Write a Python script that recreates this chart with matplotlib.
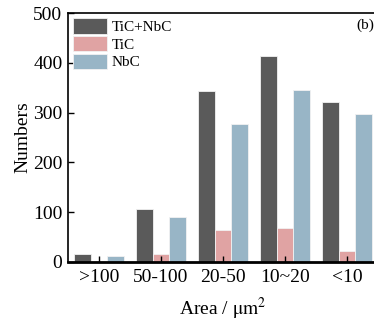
import numpy as np
import matplotlib
matplotlib.use("Agg")
import matplotlib.pyplot as plt

categories = [">100", "50-100", "20-50", "10~20", "<10"]
tic_nbc = [16, 106, 343, 413, 321]
tic = [3, 16, 64, 68, 22]
nbc = [12, 90, 277, 345, 297]

series_names = ["TiC+NbC", "TiC", "NbC"]
colors = ["#5a5a5a", "#e0a3a3", "#98b5c6"]

plt.rcParams["font.family"] = "Liberation Serif"
plt.rcParams["mathtext.fontset"] = "stix"

fig = plt.figure(figsize=(3.74, 3.24), dpi=100)
# axes run past the right edge of the figure (cropped like the source)
ax = fig.add_axes([68 / 374, 1 - 262 / 324, 310 / 374, 249 / 324])

x = np.arange(len(categories))
w = 0.27
for i, (vals, name, c) in enumerate(zip([tic_nbc, tic, nbc], series_names, colors)):
    ax.bar(x + (i - 1) * w, vals, width=w, color=c, edgecolor="#f2f2f2",
           linewidth=0.6, label=name)

ax.set_xlim(-0.5, 4.5)
ax.set_ylim(0, 500)
ax.set_yticks([0, 100, 200, 300, 400, 500])
ax.set_xticks(x)
ax.set_xticklabels(categories)
ax.tick_params(direction="in", labelsize=14, length=4, width=1)
ax.tick_params(axis="x", pad=5)
ax.tick_params(axis="y", pad=4)
for s in ["left", "top", "right"]:
    ax.spines[s].set_linewidth(1.2)
ax.spines["bottom"].set_linewidth(2)

ax.set_xlabel(r"Area / $\mathrm{\mu m^2}$", fontsize=14, labelpad=7)
ax.set_ylabel("Numbers", fontsize=14, labelpad=1)

fig.text(356 / 374, 1 - 25 / 324, "(b)", fontsize=11, ha="left", va="center")

ax.legend(loc="upper left", frameon=False, fontsize=11, handlelength=2.2,
          handleheight=1.15, labelspacing=0.12, handletextpad=0.3,
          borderaxespad=0.15, borderpad=0.2)

fig.savefig("out.png", dpi=100)
